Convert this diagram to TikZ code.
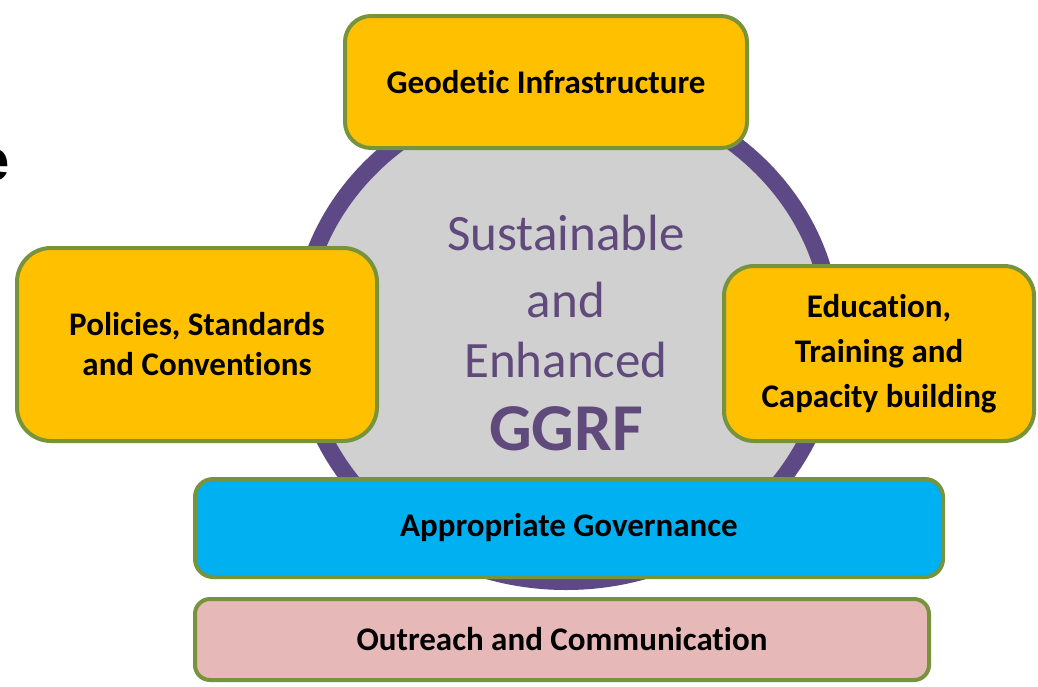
\documentclass[tikz,border=0pt]{standalone}
\usepackage{fontspec}
\setmainfont{Carlito}[Ligatures=NoCommon]
\newfontfamily\cutfont{Liberation Sans}
\usetikzlibrary{positioning}

\definecolor{boxgold}{RGB}{255,192,0}
\definecolor{boxedge}{RGB}{119,147,60}
\definecolor{govblue}{RGB}{0,176,240}
\definecolor{outpink}{RGB}{230,185,184}
\definecolor{coregray}{RGB}{208,208,208}
\definecolor{ringpurple}{RGB}{94,73,135}
\definecolor{textpurple}{RGB}{96,74,123}

\begin{document}
\begin{tikzpicture}[x=1pt,y=-1pt,
  pillar/.style={draw=boxedge,line width=4pt,align=center,inner sep=0pt,
    font=\bfseries\fontsize{33}{40}\selectfont},
  coretext/.style={anchor=base,textpurple,font=\fontsize{51}{51}\selectfont}]
  \useasboundingbox (0,0) rectangle (1038,686);

  % cropped letter at the left edge
  \node[anchor=base east,inner sep=0pt,font=\cutfont\bfseries\fontsize{58}{58}\selectfont] (cut) at (10,180) {e};

  % core ring
  \draw[ringpurple,line width=17pt,fill=coregray] (566,335) ellipse [x radius=266.5pt,y radius=246.5pt];
  \node[coretext] (sus) at (566,250) {Sustainable};
  \node[coretext] (and) at (566,317) {and};
  \node[coretext] (enh) at (566,377) {Enhanced};
  \node[coretext,font=\bfseries\fontsize{67}{67}\selectfont] (ggrf) at (566,450) {GGRF};

  % pillars
  \node[pillar,fill=boxgold,rounded corners=26pt,minimum width=402pt,minimum height=132pt] (geo) at (546,82) {Geodetic Infrastructure};
  \node[pillar,fill=boxgold,rounded corners=34pt,minimum width=360pt,minimum height=193pt] (pol) at (197,344.5) {Policies, Standards\\and Conventions};
  \node[pillar,fill=boxgold,rounded corners=30pt,minimum width=310pt,minimum height=175pt,
    font=\bfseries\fontsize{33}{45}\selectfont] (edu) at (879,353.5) {Education,\\Training and\\Capacity building};

  % base layers
  \node[pillar,fill=govblue,rounded corners=18pt,minimum width=748pt,minimum height=98pt] (gov) at (569,528) {Appropriate Governance};
  \node[pillar,fill=outpink,rounded corners=15pt,minimum width=734pt,minimum height=81pt] (out) at (562,639.5) {Outreach and Communication};
\end{tikzpicture}
\end{document}
